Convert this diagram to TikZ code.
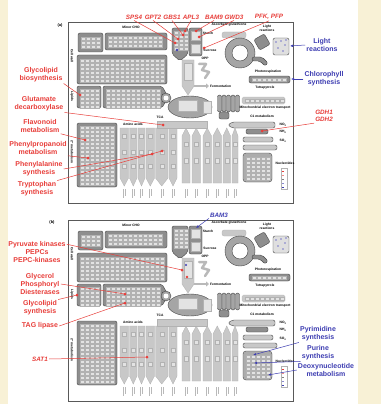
\documentclass[tikz,border=0pt]{standalone}
\usepackage{fontspec}
\setmainfont{Liberation Sans}
\usetikzlibrary{arrows.meta,positioning,calc}

\definecolor{bgcream}{RGB}{248,241,214}
\definecolor{labred}{RGB}{232,62,58}
\definecolor{labblue}{RGB}{62,62,178}
\definecolor{blockgray}{RGB}{142,142,142}
\definecolor{colgray}{RGB}{200,200,200}
\definecolor{ringgray}{RGB}{165,165,165}

% small heat-map items inside a block
\newcommand{\cellgrid}[4]{%
  \foreach \i in {1,...,#3}{\foreach \j in {1,...,#4}{%
    \draw[cellitem] ({#1+(\i-1)*5},{#2+(\j-1)*4}) rectangle ++(4,3);}}}

% the pathway overview, drawn once per panel
\newcommand{\mapmanpanel}{%
  \draw[frame] (68,22) rectangle (293,203);
  \node[tiny] (minorcho) at (131,27) {Minor CHO};
  % cell wall
  \node[tiny, rotate=-90] (cwlab) at (72,56) {Cell wall};
  \draw[blk] (78,33) rectangle (103,52);
  \cellgrid{81}{37}{4}{3}
  \draw[blk] (105,33) rectangle (167,50);
  \cellgrid{108}{36}{11}{3}
  \draw[blk] (77,55) rectangle (167,84);
  \cellgrid{80}{59}{17}{6}
  % lipids
  \node[tiny, rotate=-90] (lplab) at (72,96) {Lipids};
  \draw[blk] (77,86) rectangle (101,108);
  \cellgrid{80}{89}{4}{5}
  \draw[blk] (103,86) -- (162,86) -- (168,97) -- (162,108) -- (103,108) -- cycle;
  \cellgrid{106}{89}{11}{5}
  % secondary metabolism
  \node[tiny, rotate=-90] (smlab) at (72,152) {2° metabolism};
  \draw[blk] (77,123) rectangle (117,187);
  \cellgrid{80}{126}{7}{15}
  % amino acids
  \node[tiny] (aalab) at (133,124) {Amino acids};
  \foreach \xl/\xr in {120/128.5, 129.5/137, 138/145, 146/154.5, 155.5/168, 169/177}{%
    \draw[col] (\xl,128) -- (\xr,128) -- (\xr,178) -- ({(\xl+\xr)/2},186) -- (\xl,178) -- cycle;
    \draw[cellitem] ({(\xl+\xr)/2-2},134) rectangle ++(4,4);
    \draw[cellitem] ({(\xl+\xr)/2-2},150) rectangle ++(4,4);
    \draw[cellitem] ({(\xl+\xr)/2-2},164) rectangle ++(4,4);
    \draw[ticks] ({(\xl+\xr)/2-1},189) -- ++(0,9) ({(\xl+\xr)/2+1},189) -- ++(0,7);}
  % second column set
  \foreach \xl/\xr in {182/190, 192/200.5, 203/211.5, 213/221.5, 223/230.5, 232/238}{%
    \draw[col] (\xl,136) -- ({(\xl+\xr)/2},128) -- (\xr,136) -- (\xr,183) -- (\xl,183) -- cycle;
    \draw[cellitem] ({(\xl+\xr)/2-2},142) rectangle ++(4,4);
    \draw[cellitem] ({(\xl+\xr)/2-2},158) rectangle ++(4,5);
    \draw[ticks] ({(\xl+\xr)/2-1},189) -- ++(0,9) ({(\xl+\xr)/2+1},189) -- ++(0,7);}
  % sucrose and starch
  \draw[blk] (172,28) -- (188,28) -- (188,54) -- (180,61) -- (172,54) -- cycle;
  \cellgrid{174}{31}{3}{5}
  \draw[blk] (189,28) rectangle (202,56);
  \draw[cellitem] (191,31) rectangle (200,40);
  \draw[cellitem] (191,44) rectangle (200,53);
  \node[tiny] (starch) at (208,33) {Starch};
  \node[tiny] (sucrose) at (210,50) {Sucrose};
  % glycolysis down to TCA
  \draw[col] (182,60) -- (194,60) -- (194,86) -- (188,95) -- (182,86) -- cycle;
  \draw[cellitem] (184,63) rectangle (192,80);
  \node[tiny] (opp) at (205,58) {OPP};
  \draw[soft] (199,64) -- (206,64) -- (202,70) -- (209,72) -- (205,78);
  \draw[fermarrow] (194,86) -- (209,86);
  \node[tiny, anchor=west] (ferm) at (210,86) {Fermentation};
  % TCA
  \draw[col] (157,121) rectangle (207,128);
  \draw[blk, fill=ringgray] (190,107) ellipse [x radius=22, y radius=11];
  \draw[cellitem] (178,100) rectangle (197,111);
  \draw[cellitem] (203,101) rectangle (211,113);
  \draw[blk, fill=ringgray] (166,98) circle (5);
  \fill[white] (166,98) circle (2.5);
  \node[tiny] (tca) at (160,117) {TCA};
  % light reactions and Calvin cycle
  \node[tiny, align=center] (asclab) at (229,25) {Ascorbate glutathione};
  \draw[col, rounded corners=2pt] (222,32) rectangle (246,38);
  \node[tiny, align=center] (lrlab) at (267,28) {Light\\reactions};
  \draw[blk, fill=ringgray, even odd rule] (240,53) circle (15) (240,53) circle (8);
  \draw[blk, rotate around={30:(262,42)}] (256,36) rectangle (268,48);
  \draw[blk, fill=gray!25] (273,38) rectangle (289,55);
  \foreach \px/\py in {276/42, 281/41, 285/45, 278/48, 283/51, 286/40}{%
    \fill[labblue!70] (\px,\py) circle (0.9);}
  \draw[blk] (252,57) -- (262,57) -- (268,63) -- (265,66) -- (260,61) -- (252,61) -- cycle;
  \node[tiny] (photores) at (268,72) {Photorespiration};
  \draw[blk] (249,76) rectangle (290,83);
  \cellgrid{252}{78}{7}{1}
  \node[tiny] (tetrap) at (265,88) {Tetrapyrrole};
  % mitochondrial electron transport
  \foreach \cx in {219.5, 224, 228.5, 233, 237.5}{%
    \draw[blk, fill=ringgray, rounded corners=2pt] ({\cx-2},95) rectangle ({\cx+2},112);}
  \draw[col, rounded corners=1.5pt] (242,97) rectangle (285,104);
  \cellgrid{245}{99}{8}{1}
  \node[tiny] (mitoet) at (265,108) {Mitochondrial electron transport};
  \draw[blk] (219,112) rectangle (229,119);
  \node[tiny] (c1met) at (262,116) {C1 metabolism};
  % nitrogen and sulfur
  \draw[blk, fill=colgray] (228,125) -- (232,122) -- (275,122) -- (275,128) -- (232,128) -- cycle;
  \draw[blk] (246,129) rectangle (268,134);
  \node[tiny] (no3) at (283,125) {NO\textsubscript{3}};
  \node[tiny] (nh4) at (283,132) {NH\textsubscript{4}};
  \draw[blk, fill=colgray] (243,137) rectangle (273,142);
  \node[tiny] (so4) at (283,141) {SO\textsubscript{4}};
  \draw[blk, fill=colgray] (243,145) rectangle (277,150);
  % nucleotides
  \draw[blk, fill=gray!65, rounded corners=3pt] (243,153) rectangle (272,182);
  \cellgrid{246}{157}{5}{6}
  \node[tiny] (nuclab) at (285,163) {Nucleotides};
  % colour scale
  \draw[cellitem, fill=white] (281,168) rectangle (287,189);
  \foreach \sy/\sc in {171/labred, 175/labred!60, 179/gray, 183/labblue!60, 187/labblue}{%
    \draw[\sc, line width=0.6pt] (282,\sy) -- (284,\sy);}
}

\begin{document}
\begin{tikzpicture}[x=1pt, y=-1pt,
    frame/.style={draw=gray!70!black, line width=0.5pt},
    blk/.style={draw=gray!55!black, fill=blockgray, rounded corners=2pt, line width=0.4pt},
    col/.style={draw=gray!60, fill=colgray, line width=0.3pt},
    cellitem/.style={draw=gray!60, fill=gray!22, line width=0.15pt},
    ticks/.style={draw=gray!55, line width=0.4pt},
    soft/.style={draw=gray!55, line width=2.5pt, line cap=round, line join=round},
    fermarrow/.style={draw=gray!55, line width=2pt, -{Triangle[length=3pt,width=5pt]}},
    tiny/.style={font=\fontsize{3.3}{3.8}\selectfont\bfseries, inner sep=0pt},
    redlab/.style={text=labred, font=\fontsize{7}{8}\selectfont\bfseries, align=center, inner sep=1pt},
    bluelab/.style={text=labblue, font=\fontsize{7}{8}\selectfont\bfseries, align=center, inner sep=1pt},
    genelab/.style={redlab, font=\fontsize{6.3}{7.5}\selectfont\bfseries\itshape},
    redline/.style={draw=labred, line width=0.5pt},
    blueline/.style={draw=labblue, line width=0.5pt, -{Latex[length=3pt,width=2.5pt]}},
    hit/.style={fill=labred}
]
\useasboundingbox (0,0) rectangle (381,404);
\fill[bgcream] (0,0) rectangle (381,404);
\fill[white] (8,0) rectangle (358,404);

% panel (a)
\node[tiny, font=\fontsize{4}{5}\selectfont\bfseries] (pa) at (60,25) {(a)};
\mapmanpanel
\coordinate (tSPS) at (175,43);
\coordinate (tGPT) at (178,39);
\coordinate (tGBS) at (183,35);
\coordinate (tAPL) at (185,31);
\coordinate (tBAM) at (196,31);
\coordinate (tGWD) at (199,37);
\coordinate (tPFK) at (204,48);
\coordinate (tGlyco) at (80,95);
\coordinate (tGlut) at (163,125);
\coordinate (tFlav) at (85,140);
\coordinate (tPhen) at (88,158);
\coordinate (tPhe) at (152,154);
\coordinate (tTrp) at (162,151);
\coordinate (tGDH) at (262,131);
\coordinate (tLight) at (290,46);
\coordinate (tChl) at (291,79);
\fill[labblue] (177,50) circle (1.3);

% gene names above the map
\node[genelab] (gSPS) at (134,17) {SPS4};
\node[genelab] (gGPT) at (153,17) {GPT2};
\node[genelab] (gGBS) at (172,17) {GBS1};
\node[genelab] (gAPL) at (191,17) {APL3};
\node[genelab] (gBAM) at (214,17) {BAM9};
\node[genelab] (gGWD) at (234,17) {GWD3};
\node[genelab] (gPFK) at (269,17) {PFK, PFP};
\foreach \g in {SPS, GPT, GBS, APL, BAM, GWD, PFK}{%
  \draw[redline] (g\g.south) -- (t\g);
  \fill[hit] (t\g) circle (1.5);}

% left labels of (a)
\node[redlab] (lGlyco) at (41,75) {Glycolipid\\biosynthesis};
\node[redlab] (lGlut) at (39,104) {Glutamate\\decarboxylase};
\node[redlab] (lFlav) at (40,126) {Flavonoid\\metabolism};
\node[redlab] (lPhen) at (38,148) {Phenylpropanoid\\metabolism};
\node[redlab] (lPhe) at (39,169) {Phenylalanine\\synthesis};
\node[redlab] (lTrp) at (37,189) {Tryptophan\\synthesis};
\draw[redline] (lGlyco.south east) -- (tGlyco);
\draw[redline] (lGlut.south east) -- (tGlut);
\draw[redline] (lFlav.south east) -- (tFlav);
\draw[redline] (lPhen.south east) -- (tPhen);
\draw[redline] (lPhe.east) -- (tPhe);
\draw[redline] (lTrp.north east) -- (tTrp);
\foreach \t in {Glyco, Glut, Flav, Phen, Phe, Trp}{\fill[hit] (t\t) circle (1.5);}

% right labels of (a)
\node[bluelab] (lLight) at (322,45) {Light\\reactions};
\node[bluelab] (lChl) at (324,79) {Chlorophyll\\synthesis};
\node[genelab] (lGDH) at (324,116) {GDH1\\GDH2};
\draw[blueline] (lLight.west) -- (tLight);
\draw[blueline] (lChl.west) -- (tChl);
\draw[redline] (lGDH.south west) -- (tGDH);
\fill[hit] (tGDH) circle (1.5);

% panel (b)
\node[tiny, font=\fontsize{4}{5}\selectfont\bfseries] (pb) at (52,222) {(b)};
\begin{scope}[shift={(0,198)}]
\mapmanpanel
\coordinate (uBAM) at (196,30);
\coordinate (uPyr) at (182,72);
\coordinate (uGpd) at (125,96);
\coordinate (uGlyco) at (77,97);
\coordinate (uTag) at (125,105);
\coordinate (uSat) at (147,159);
\coordinate (uPyrim) at (253,157);
\coordinate (uPurine) at (254,165);
\coordinate (uDeoxy) at (268,177);
\fill[hit] (187,79) circle (1.3);
\fill[labblue] (186,67) circle (1.2);
\end{scope}

\node[genelab, text=labblue] (mBAM) at (219,215) {BAM3};
\draw[blueline] (mBAM.south west) -- (uBAM);

% left labels of (b)
\node[redlab] (mPyr) at (37,252) {Pyruvate kinases\\PEPCs\\PEPC-kinases};
\node[redlab] (mGpd) at (40,284) {Glycerol\\Phosphoryl\\Diesterases};
\node[redlab] (mGlyco) at (40,308) {Glycolipid\\synthesis};
\node[redlab] (mTag) at (40,326) {TAG lipase};
\node[genelab] (mSat) at (40,359) {SAT1};
\draw[redline] (mPyr.north east) ++(0,4) -- (uPyr);
\draw[redline] (mGpd.east) -- (uGpd);
\draw[redline] (mGlyco.north east) -- (uGlyco);
\draw[redline] (mTag.east) -- (uTag);
\draw[redline] (mSat.east) -- (uSat);
\foreach \t in {Pyr, Gpd, Glyco, Tag, Sat}{\fill[hit] (u\t) circle (1.5);}

% right labels of (b)
\node[bluelab] (mPyrim) at (318,334) {Pyrimidine\\synthesis};
\node[bluelab] (mPurine) at (318,353) {Purine\\synthesis};
\node[bluelab] (mDeoxy) at (326,370) {Deoxynucleotide\\metabolism};
\draw[blueline] (mPyrim.south west) -- (uPyrim);
\draw[blueline] (mPurine.south west) -- (uPurine);
\draw[blueline] (mDeoxy.west) -- (uDeoxy);
\end{tikzpicture}
\end{document}
